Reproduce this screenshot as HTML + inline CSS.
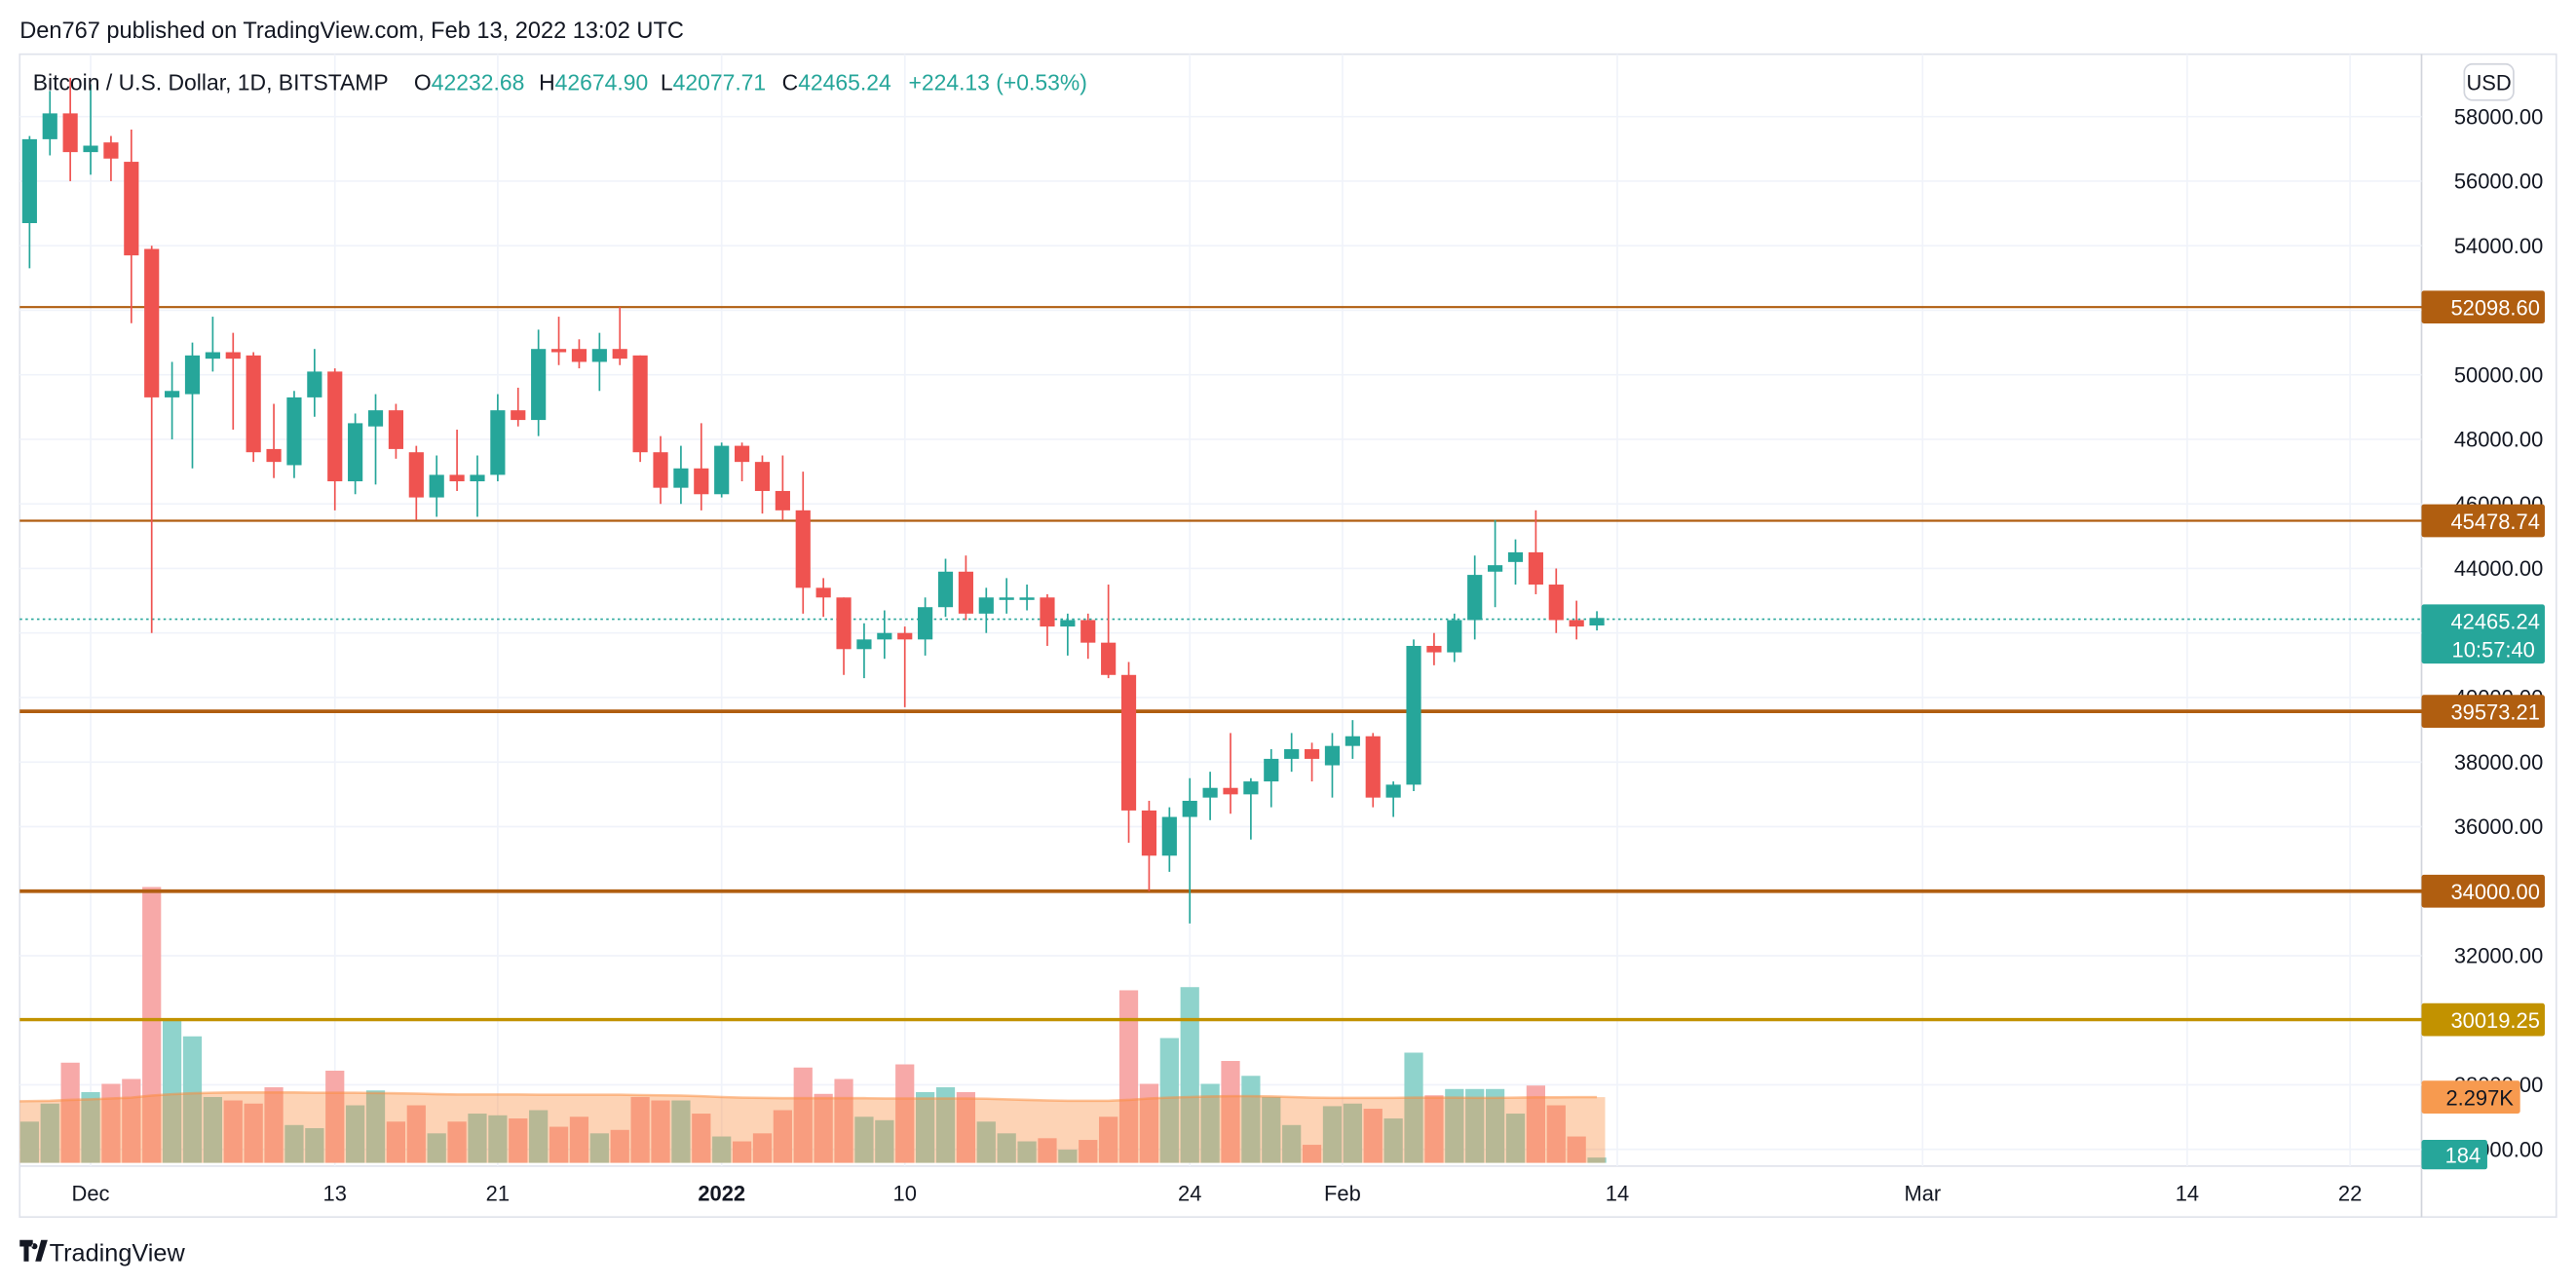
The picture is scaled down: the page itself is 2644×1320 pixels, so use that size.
<!DOCTYPE html>
<html><head><meta charset="utf-8"><style>
html,body{margin:0;padding:0;background:#fff;}
svg{display:block;font-family:"Liberation Sans",sans-serif;}
</style></head><body>
<svg id="c" width="2644" height="1320" viewBox="0 0 1568 783" preserveAspectRatio="none" xmlns="http://www.w3.org/2000/svg">
<text x="12" y="23" font-size="14" fill="#131722">Den767 published on TradingView.com, Feb 13, 2022 13:02 UTC</text>
<rect x="12" y="33" width="1544" height="708" fill="none" stroke="#e0e3eb" stroke-width="1"/>
<line x1="1474" y1="33" x2="1474" y2="741" stroke="#d1d4dc"/>
<line x1="12" y1="710" x2="1474" y2="710" stroke="#e0e3eb"/>
<g id="grid"></g>
<g id="vol"></g>
<g id="levels"></g>
<line x1="12" y1="377" x2="1474" y2="377" stroke="#26a69a" stroke-width="1" stroke-dasharray="1.5 2"/>
<g id="candles"></g>
<g id="axis"></g>
<g id="xaxis"></g>
<text y="55" font-size="13.6" fill="#131722"><tspan x="20">Bitcoin / U.S. Dollar, 1D, BITSTAMP</tspan><tspan x="252">O</tspan><tspan fill="#26a69a">42232.68</tspan><tspan x="328">H</tspan><tspan fill="#26a69a">42674.90</tspan><tspan x="402">L</tspan><tspan fill="#26a69a">42077.71</tspan><tspan x="476">C</tspan><tspan fill="#26a69a">42465.24</tspan><tspan x="553" fill="#26a69a">+224.13 (+0.53%)</tspan></text>
<rect x="1500" y="39" width="30" height="22" rx="5" fill="#fff" stroke="#d1d4dc"/>
<text x="1515" y="55" font-size="13" fill="#131722" text-anchor="middle">USD</text>
<g>
<path d="M12 755h8v4h-2.5v9h-3v-9H12z M21 757a1.8 1.8 0 1 0 .01 0z M25 755h4l-4 13h-3.5z" fill="#131722"/>
<text x="30" y="768" font-size="15" fill="#131722">TradingView</text>
</g>
</svg>
<script>
const dates = ["Nov28","Nov29","Nov30","Dec1","Dec2","Dec3","Dec4","Dec5","Dec6","Dec7","Dec8","Dec9","Dec10","Dec11","Dec12","Dec13","Dec14","Dec15","Dec16","Dec17","Dec18","Dec19","Dec20","Dec21","Dec22","Dec23","Dec24","Dec25","Dec26","Dec27","Dec28","Dec29","Dec30","Dec31","Jan1","Jan2","Jan3","Jan4","Jan5","Jan6","Jan7","Jan8","Jan9","Jan10","Jan11","Jan12","Jan13","Jan14","Jan15","Jan16","Jan17","Jan18","Jan19","Jan20","Jan21","Jan22","Jan23","Jan24","Jan25","Jan26","Jan27","Jan28","Jan29","Jan30","Jan31","Feb1","Feb2","Feb3","Feb4","Feb5","Feb6","Feb7","Feb8","Feb9","Feb10","Feb11","Feb12","Feb13"];
const opens = [54700,57300,58100,56900,57200,56600,53900,49300,49400,50500,50700,50600,47700,47200,49300,50100,46700,48400,48900,47600,46200,46900,46700,46900,48900,48600,50800,50800,50400,50800,50600,47600,46500,47100,46300,47800,47300,46400,45800,43400,43100,41500,41800,42000,41800,42800,43900,42600,43100,43100,43100,42200,42400,41700,40700,36500,35100,36300,36900,37200,37000,37400,38100,38400,37900,38500,38800,36900,37300,41600,41400,42400,43900,44200,44500,43500,42400,42232.68];
const highs = [57400,58800,59200,59000,57400,57600,54000,50400,51000,51800,51300,50700,49100,49500,50800,50200,48800,49400,49100,47800,47500,48300,47500,49400,49600,51400,51800,51100,51300,52100,50600,48100,47800,48500,47900,47900,47500,47500,47000,43700,43100,42300,42700,42200,43100,44300,44400,43400,43700,43500,43200,42600,42600,43500,41100,36800,36600,37500,37700,38900,37500,38400,38900,38600,38900,39300,38900,37400,41800,42000,42600,44400,45500,44900,45800,44000,43000,42674.90];
const lows = [53300,56800,56000,56200,56000,51600,42000,48000,47100,50100,48300,47300,46800,46800,48700,45800,46300,46600,47400,45500,45600,46400,45600,46700,48400,48100,50300,50200,49500,50300,47300,46000,46000,45800,46200,46700,45700,45500,42600,42500,40700,40600,41200,39700,41300,42500,42400,42000,42600,42700,41600,41300,41200,40600,35500,34000,34600,33000,36200,36400,35600,36600,37700,37400,36900,38100,36600,36300,37100,41000,41100,41800,42800,43500,43200,42000,41800,42077.71];
const closes = [57300,58100,56900,57100,56700,53700,49300,49500,50600,50700,50500,47600,47300,49300,50100,46700,48500,48900,47700,46200,46900,46700,46900,48900,48600,50800,50700,50400,50800,50500,47600,46500,47100,46300,47800,47300,46400,45800,43400,43100,41500,41800,42000,41800,42800,43900,42600,43100,43100,43100,42200,42400,41700,40700,36500,35100,36300,36800,37200,37000,37400,38100,38400,38100,38500,38800,36900,37300,41600,41400,42400,43800,44100,44500,43500,42400,42200,42465.24];
const volumes = [1440,2070,3500,2470,2760,2930,9640,5000,4420,2300,2180,2070,2640,1320,1210,3220,2010,2530,1440,2010,1030,1440,1720,1660,1550,1840,1260,1610,1030,1150,2300,2180,2180,1720,920,750,1030,1840,3330,2410,2930,1610,1490,3440,2470,2640,2470,1440,1030,750,860,460,800,1610,6030,2760,4360,6140,2760,3560,3040,2300,1320,630,1980,2070,1890,1550,3850,2360,2580,2580,2580,1720,2700,2010,920,184];
const maVolume = [2150,2170,2200,2220,2250,2280,2350,2400,2430,2450,2460,2460,2460,2460,2450,2450,2450,2440,2430,2420,2400,2390,2390,2390,2390,2380,2380,2380,2380,2380,2370,2360,2350,2330,2300,2280,2270,2260,2260,2260,2260,2260,2250,2250,2250,2250,2250,2240,2220,2200,2180,2170,2170,2170,2200,2250,2280,2300,2320,2330,2330,2320,2300,2280,2270,2270,2270,2270,2280,2280,2280,2270,2270,2280,2290,2290,2297,2297];
const priceTicks = [58000,56000,54000,52000,50000,48000,46000,44000,42000,40000,38000,36000,34000,32000,30000,28000,26000];
const levelValues = [52098.60,45478.74,39573.21,34000.00,30019.25];
const levelLabels = ["52098.60","45478.74","39573.21","34000.00","30019.25"];
const timeLabels = ["Dec","13","21","2022","10","24","Feb","14","Mar","14","22"];
const timeDays = [3,15,23,34,43,57,64.5,78,93,106,114];

const NS="http://www.w3.org/2000/svg";
function mk(tag,attrs,parent){const e=document.createElementNS(NS,tag);for(const k in attrs)e.setAttribute(k,attrs[k]);parent.appendChild(e);return e;}
const X0=18, DX=12.39;
function xOf(i){return X0+i*DX;}
function yOf(p){return 71+(58000-p)*0.01965;}
const VB=708, VK=57.4;
function vY(v){return VB-v/VK;}

const grid=document.getElementById('grid');
priceTicks.forEach(p=>{const y=yOf(p); if(y<36||y>705)return;
  const l=mk('line',{x1:12,x2:1474,y1:y,y2:y,stroke:'#f0f3fa','stroke-width':1},grid);
  
  
});
timeDays.forEach(d=>{const x=xOf(d);
  const l=mk('line',{x1:x,x2:x,y1:33,y2:710,stroke:'#f0f3fa','stroke-width':1},grid);
  
  
});

const vol=document.getElementById('vol');
volumes.forEach((v,i)=>{const up=closes[i]>=opens[i];
  const r=mk('rect',{x:xOf(i)-5.7,y:vY(v),width:11.4,height:v/VK,fill:up?'#8fd3cc':'#f7a9a8'},vol);
  
  
});
let d='M'+(xOf(0)-6)+' '+VB;
maVolume.forEach((v,i)=>{d+=' L'+(i==0?xOf(0)-6:xOf(i))+' '+vY(v);});
d+=' L'+(xOf(maVolume.length-1)+5)+' '+vY(maVolume[maVolume.length-1])+' L'+(xOf(maVolume.length-1)+5)+' '+VB+' Z';
const area=mk('path',{d:d,fill:'rgba(251,140,60,0.38)'},vol);


let d2='';maVolume.forEach((v,i)=>{d2+=(i?' L':'M')+(i==0?xOf(0)-6:xOf(i))+' '+vY(v);});
const maLine=mk('path',{d:d2,fill:'none',stroke:'rgba(251,140,60,0.5)','stroke-width':1.5},vol);



const lv=document.getElementById('levels');
const lvColors=['#b05e10','#b05e10','#b05e10','#b05e10','#c29200'];
const lvW=[1.3,1.3,2.2,2.2,2];
levelValues.forEach((p,i)=>{const y=yOf(p);
  const l=mk('line',{x1:12,x2:1474,y1:y,y2:y,stroke:lvColors[i],'stroke-width':lvW[i]},lv);
  
  
});

const cg=document.getElementById('candles');
dates.forEach((dt,i)=>{const up=closes[i]>=opens[i];const col=up?'#26a69a':'#ef5350';const x=xOf(i);
  const g=mk('g',{},cg);
  
  
  mk('line',{x1:x,x2:x,y1:yOf(highs[i]),y2:yOf(lows[i]),stroke:col,'stroke-width':1},g);
  const top=yOf(Math.max(opens[i],closes[i])),bot=yOf(Math.min(opens[i],closes[i]));
  mk('rect',{x:x-4.5,y:top,width:9,height:Math.max(1.5,bot-top),fill:col},g);
});

const ax=document.getElementById('axis');
priceTicks.forEach(p=>{const y=yOf(p); if(y<60||y>712)return;
  const t=mk('text',{x:1548,y:y+4.5,'font-size':13,fill:'#131722','text-anchor':'end'},ax);
  t.textContent=p.toFixed(2);
  
  
});
levelValues.forEach((p,i)=>{const y=yOf(p);
  const r=mk('rect',{x:1474,y:y-10,width:75,height:20,rx:1.5,fill:lvColors[i]},ax);
  
  
  const t=mk('text',{x:1546,y:y+5,'font-size':13,fill:'#fff','text-anchor':'end'},ax);
  t.textContent=levelLabels[i];
  
  
});
const lb=mk('rect',{x:1474,y:368,width:75,height:36,rx:1.5,fill:'#26a69a'},ax);


const lt=mk('text',{x:1546,y:383,'font-size':13,fill:'#fff','text-anchor':'end'},ax);
lt.textContent=closes[closes.length-1].toFixed(2);


const ct=mk('text',{x:1543,y:400,'font-size':13,fill:'#fff','text-anchor':'end'},ax);
ct.textContent='10:57:40';


const vb=mk('rect',{x:1474,y:vY(maVolume[maVolume.length-1])-10,width:60,height:20,rx:1.5,fill:'#f79a4f'},ax);


const vt=mk('text',{x:1530,y:vY(maVolume[maVolume.length-1])+5,'font-size':13,fill:'#131722','text-anchor':'end'},ax);
vt.textContent=(maVolume[maVolume.length-1]/1000).toFixed(3)+'K';


const vb2=mk('rect',{x:1474,y:694,width:40,height:18,rx:1.5,fill:'#26a69a'},ax);


const vt2=mk('text',{x:1510,y:708,'font-size':13,fill:'#fff','text-anchor':'end'},ax);
vt2.textContent=String(volumes[volumes.length-1]);



const xa=document.getElementById('xaxis');
timeLabels.forEach((s,i)=>{
  const t=mk('text',{x:xOf(timeDays[i]),y:731,'font-size':13,fill:'#131722','text-anchor':'middle','font-weight':s==='2022'?'bold':'normal'},xa);
  t.textContent=s;
  
  
});
</script>
</body></html>
